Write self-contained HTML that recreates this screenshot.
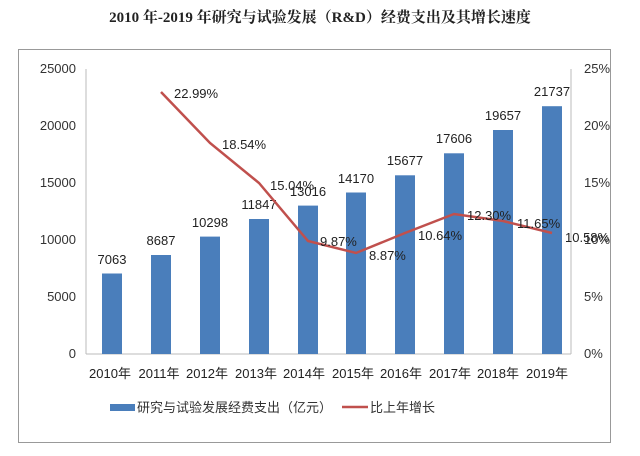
<!DOCTYPE html>
<html><head><meta charset="utf-8"><style>
body{margin:0;background:#fff;width:640px;height:451px;overflow:hidden}
text{font-family:"Liberation Sans","Noto Sans CJK SC",sans-serif}
</style></head><body>
<svg width="640" height="451" xmlns="http://www.w3.org/2000/svg">
<text x="320" y="22" text-anchor="middle" font-family="Liberation Serif,'Noto Serif CJK SC',serif" font-weight="bold" font-size="15" fill="#222" style="font-family:'Liberation Serif','Noto Serif CJK SC',serif">2010 年-2019 年研究与试验发展（R&amp;D）经费支出及其增长速度</text>
<rect x="18.5" y="49.5" width="592" height="393" fill="none" stroke="#999" stroke-width="1"/>
<g stroke="#bbb" stroke-width="1">
<line x1="86" y1="69" x2="86" y2="354"/><line x1="571" y1="69" x2="571" y2="354"/>
<line x1="86" y1="354" x2="571" y2="354"/>
</g>
<g font-size="13" fill="#333" text-anchor="end">
<text x="76" y="358">0</text><text x="76" y="301">5000</text><text x="76" y="244">10000</text><text x="76" y="187">15000</text><text x="76" y="130">20000</text><text x="76" y="73">25000</text>
</g>
<g font-size="13" fill="#333" text-anchor="start">
<text x="584" y="358">0%</text><text x="584" y="301">5%</text><text x="584" y="244">10%</text><text x="584" y="187">15%</text><text x="584" y="130">20%</text><text x="584" y="73">25%</text>
</g>
<g fill="#4a7ebb">
<rect x="102" y="273.5" width="20" height="80.5"/>
<rect x="151" y="255" width="20" height="99"/>
<rect x="200" y="236.6" width="20" height="117.4"/>
<rect x="249" y="219" width="20" height="135"/>
<rect x="298" y="205.6" width="20" height="148.4"/>
<rect x="346" y="192.5" width="20" height="161.5"/>
<rect x="395" y="175.3" width="20" height="178.7"/>
<rect x="444" y="153.3" width="20" height="200.7"/>
<rect x="493" y="130" width="20" height="224"/>
<rect x="542" y="106.2" width="20" height="247.8"/>
</g>
<g font-size="13" fill="#222" text-anchor="middle">
<text x="112" y="264">7063</text><text x="161" y="245">8687</text><text x="210" y="227">10298</text><text x="259" y="209">11847</text><text x="308" y="196">13016</text><text x="356" y="183">14170</text><text x="405" y="165">15677</text><text x="454" y="143">17606</text><text x="503" y="120">19657</text><text x="552" y="96">21737</text>
</g>
<polyline fill="none" stroke="#c0504d" stroke-width="2.5" points="161,92 210,143 259,183 308,241 356,253 405,233 454,214 503,221 552,233"/>
<g font-size="13" fill="#222">
<text x="174" y="98">22.99%</text><text x="222" y="149">18.54%</text><text x="270" y="190">15.04%</text><text x="320" y="246">9.87%</text><text x="369" y="260">8.87%</text><text x="418" y="240">10.64%</text><text x="467" y="220">12.30%</text><text x="517" y="228">11.65%</text><text x="565" y="242">10.58%</text>
</g>
<g font-size="13" fill="#222" text-anchor="middle">
<text x="110" y="378">2010年</text><text x="159" y="378">2011年</text><text x="207" y="378">2012年</text><text x="256" y="378">2013年</text><text x="304" y="378">2014年</text><text x="353" y="378">2015年</text><text x="401" y="378">2016年</text><text x="450" y="378">2017年</text><text x="498" y="378">2018年</text><text x="547" y="378">2019年</text>
</g>
<rect x="110" y="404" width="25" height="7" fill="#4a7ebb"/>
<text x="137" y="412" font-size="13" fill="#333">研究与试验发展经费支出（亿元）</text>
<line x1="342" y1="407" x2="368" y2="407" stroke="#c0504d" stroke-width="2.5"/>
<text x="370" y="412" font-size="13" fill="#333">比上年增长</text>
</svg>
</body></html>
